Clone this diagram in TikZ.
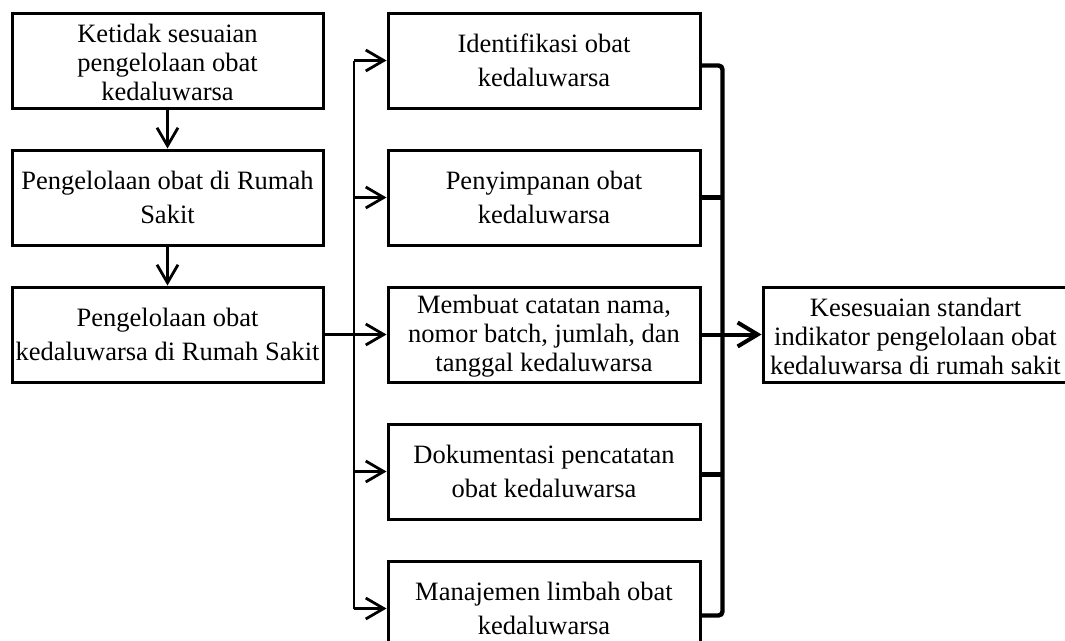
\documentclass[tikz,border=0pt]{standalone}
\usepackage{fontspec}
\setmainfont{Liberation Serif}
\usepackage{tikz}
\usetikzlibrary{positioning,arrows.meta}

\tikzset{
  box/.style={draw, line width=3pt, minimum width=311pt, minimum height=95pt,
    inner sep=2pt, align=center, font=\fontsize{26.5}{34.5}\selectfont},
  tight/.style={font=\fontsize{26.5}{29}\selectfont, yshift=-2pt},
  link/.style={line width=2.8pt},
  arrow/.style={link, -{Straight Barb[length=18pt,width=21pt,line width=2.8pt]}},
  bracket/.style={line width=4.4pt},
  bigarrow/.style={line width=4pt, -{Straight Barb[length=20pt,width=24pt,line width=4pt]}}
}

\begin{document}
\begin{tikzpicture}[x=1pt, y=-1pt]
  \useasboundingbox (0,0) rectangle (1065,640);

  % left column
  \node[box] (ktd) at (167.5,60.5) {};
  \node[tight, align=center] (ktdtxt) at (ktd) {Ketidak sesuaian\\ pengelolaan obat\\ kedaluwarsa};
  \node[box, below=39pt of ktd] (okrs) {Pengelolaan obat di Rumah\\ Sakit};
  \node[box, below=39pt of okrs] (okkd) {Pengelolaan obat\\ kedaluwarsa di Rumah Sakit};

  % middle column
  \node[box, minimum width=312pt, right=62pt of ktd] (idf) {Identifikasi obat\\ kedaluwarsa};
  \node[box, minimum width=312pt, below=39pt of idf] (simp) {Penyimpanan obat\\ kedaluwarsa};
  \node[box, minimum width=312pt, below=39pt of simp] (catat) {};
  \node[tight, align=center] (catattxt) at (catat) {Membuat catatan nama,\\ nomor batch, jumlah, dan\\ tanggal kedaluwarsa};
  \node[box, minimum width=312pt, below=39pt of catat] (dok) {Dokumentasi pencatatan\\ obat kedaluwarsa};
  \node[box, minimum width=312pt, below=39pt of dok] (lim) {Manajemen limbah obat\\ kedaluwarsa};

  % right
  \node[box, minimum width=305pt, right=60pt of catat] (sesuai) {};
  \node[tight, align=center] (sesuaitxt) at (sesuai) {Kesesuaian standart\\ indikator pengelolaan obat\\ kedaluwarsa di rumah sakit};

  \draw[arrow] (ktd) -- (okrs);
  \draw[arrow] (okrs) -- (okkd);

  % trunk to the middle boxes
  \coordinate (t) at (354,0);
  \draw[link] (idf.west -| t) -- (lim.west -| t);
  \draw[link] (okkd.east) -- (okkd.east -| t);
  \foreach \n in {idf,simp,catat,dok,lim}
    \draw[arrow] (\n.west -| t) -- (\n.west);

  % bracket
  \draw[bracket, rounded corners=4pt] ([yshift=-5pt]idf.east) -| ([xshift=21pt,yshift=-7pt]lim.east) -- ([yshift=-7pt]lim.east);
  \draw[bracket] (simp.east) -- ++(21,0);
  \draw[bracket] ([yshift=-3pt]dok.east) -- ++(21,0);
  \draw[bigarrow] (catat.east) -- (sesuai.west);
\end{tikzpicture}
\end{document}
